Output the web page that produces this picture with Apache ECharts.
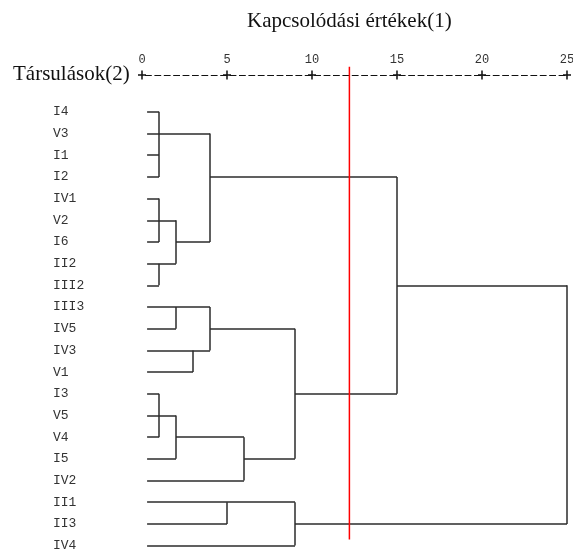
<!DOCTYPE html>
<html>
<head>
<meta charset="utf-8">
<script src="https://cdn.jsdelivr.net/npm/echarts@6/dist/echarts.min.js"></script>
<style>
  html, body { margin: 0; padding: 0; background: #fff; }
  #dendro { width: 573px; height: 551px; }
</style>
</head>
<body>
<div id="dendro"></div>
<script>
// leaf order top to bottom
const leaves = ['I4', 'V3', 'I1', 'I2', 'IV1', 'V2', 'I6', 'II2', 'III2', 'III3', 'IV5',
  'IV3', 'V1', 'I3', 'V5', 'V4', 'I5', 'IV2', 'II1', 'II3', 'IV4']
// merges (rescaled distance)
const mergeNames = ['c1', 'c2', 'c3', 'c4', 'c5', 'c6', 'c7', 'c8', 'c9', 'c10', 'c11', 'c12', 'c13', 'c14', 'c15', 'c16']
const mergeChildren = [
  ['I4', 'V3', 'I1', 'I2'],
  ['IV1', 'V2', 'I6'],
  ['II2', 'III2'],
  ['c2', 'c3'],
  ['c1', 'c4'],
  ['III3', 'IV5'],
  ['IV3', 'V1'],
  ['c6', 'c7'],
  ['I3', 'V5', 'V4'],
  ['c9', 'I5'],
  ['c10', 'IV2'],
  ['c8', 'c11'],
  ['II1', 'II3'],
  ['c13', 'IV4'],
  ['c5', 'c12'],
  ['c15', 'c14']
]
const mergeHeights = [1, 1, 1, 2, 4, 2, 3, 4, 1, 2, 6, 9, 5, 9, 15, 25]
const tickValues = [0, 5, 10, 15, 20, 25]
const leafStart = 0.3
const cutLevel = 12.2

// build bracket segments
const node = {}
leaves.forEach((n, i) => { node[n] = { x: leafStart, row: i } })
const segments = []
mergeNames.forEach((name, k) => {
  const h = mergeHeights[k]
  const rows = mergeChildren[k].map(c => node[c].row)
  mergeChildren[k].forEach(c => {
    segments.push({ coords: [[node[c].x, node[c].row], [h, node[c].row]] })
  })
  const lo = Math.min(...rows)
  const hi = Math.max(...rows)
  segments.push({ coords: [[h, lo], [h, hi]] })
  node[name] = { x: h, row: Math.floor((lo + hi) / 2) }
})

const serif = { fontFamily: 'Liberation Serif', fontSize: 21, fontWeight: 'normal', color: '#111' }

const chart = echarts.init(document.getElementById('dendro'))
const option = {
  animation: false,
  backgroundColor: '#fff',
  title: [
    { text: 'Kapcsolódási értékek(1)', left: 247, top: 11, padding: 0, textStyle: serif },
    { text: 'Társulások(2)', left: 13, top: 64, padding: 0, textStyle: serif }
  ],
  grid: {
    left: 142,
    right: 6,
    top: 75,
    bottom: 0,
    outerBoundsMode: 'none'
  },
  xAxis: {
    type: 'value',
    position: 'top',
    min: 0,
    max: 25,
    interval: 5,
    axisLine: {
      onZero: false,
      lineStyle: {
        color: '#111',
        width: 1,
        type: [6, 3.4], // ascii dashes
        dashOffset: 6
      }
    },
    axisTick: { show: false },
    splitLine: { show: false },
    axisLabel: {
      margin: 9,
      fontFamily: 'Liberation Mono',
      fontSize: 12,
      color: '#333'
    }
  },
  yAxis: {
    type: 'value',
    inverse: true,
    min: -1.7,
    max: 20.25,
    axisLine: { show: false },
    axisTick: { show: false },
    splitLine: { show: false },
    axisLabel: {
      customValues: leaves.map((_, i) => i),
      formatter: v => leaves[v],
      align: 'left',
      margin: 89,
      fontFamily: 'Liberation Mono',
      fontSize: 13,
      color: '#333'
    }
  },
  series: [
    {
      type: 'lines',
      coordinateSystem: 'cartesian2d',
      silent: true,
      lineStyle: { color: '#2b2b2b', width: 1.5, opacity: 1 },
      data: segments
    },
    {
      type: 'line',
      silent: true,
      clip: false,
      symbol: 'none',
      lineStyle: { color: '#ff0000', width: 1.5 },
      data: [[cutLevel, -2.08], [cutLevel, 19.72]]
    },
    {
      // '+' tick marks on the ascii axis
      type: 'scatter',
      silent: true,
      clip: false,
      symbol: 'path://M3,0h1.4v3.3h3v1.4h-3v3.3h-1.4v-3.3h-3v-1.4h3z',
      symbolSize: [8, 9],
      itemStyle: { color: '#111', opacity: 1 },
      data: tickValues.map(v => [v, -1.7])
    }
  ]
}
chart.setOption(option)
window.onresize = () => {
  chart.resize()
}
</script>
</body>
</html>
